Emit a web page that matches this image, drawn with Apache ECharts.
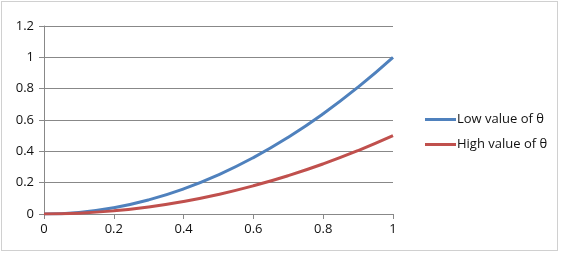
<!DOCTYPE html>
<html>
<head>
<meta charset="utf-8">
<script src="https://cdn.jsdelivr.net/npm/echarts@6/dist/echarts.min.js"></script>
<style>
  html, body { margin: 0; padding: 0; background: #fff; }
  #chart { width: 564px; height: 253px; }
  #frame { position: absolute; left: 1px; top: 1px; width: 555px; height: 248px; border: 1px solid #d0d0d0; pointer-events: none; }
</style>
</head>
<body>
<div id="chart"></div>
<div id="frame"></div>
<script>
// values
var xValues = [0, 0.1, 0.2, 0.3, 0.4, 0.5, 0.6, 0.7, 0.8, 0.9, 1];
var lowTheta = [0, 0.01, 0.04, 0.09, 0.16, 0.25, 0.36, 0.49, 0.64, 0.81, 1.0];
var highTheta = [0, 0.005, 0.02, 0.045, 0.08, 0.125, 0.18, 0.245, 0.32, 0.405, 0.5];
var seriesNames = ['Low value of θ', 'High value of θ'];

function pairs(ys) {
  var out = [];
  for (var i = 0; i < xValues.length; i++) {
    out.push([xValues[i], ys[i]]);
  }
  return out;
}

var font = 'Open Sans, Noto Sans, sans-serif';
var myChart = echarts.init(document.getElementById('chart'));

var option = {
  animation: false,
  color: ['#4F81BD', '#C0504D'],
  grid: { left: 44, right: 171, top: 26, bottom: 39 },
  legend: {
    orient: 'vertical',
    left: 420,
    top: 108,
    itemWidth: 31,
    itemHeight: 3,
    itemGap: 12,
    icon: 'rect',
    textStyle: { fontFamily: font, fontSize: 13, color: '#111', padding: [0, 0, 0, -4] },
    data: seriesNames
  },
  xAxis: {
    type: 'value',
    min: 0,
    max: 1,
    interval: 0.2,
    axisLine: { lineStyle: { color: '#888', width: 1 } },
    axisTick: { show: true, length: 5, lineStyle: { color: '#888' } },
    axisLabel: { fontFamily: font, fontSize: 13, color: '#111', margin: 9 },
    splitLine: { show: false }
  },
  yAxis: {
    type: 'value',
    min: 0,
    max: 1.2,
    interval: 0.2,
    axisLine: { show: true, lineStyle: { color: '#888', width: 1 } },
    axisTick: { show: true, length: 5, lineStyle: { color: '#888' } },
    axisLabel: { fontFamily: font, fontSize: 13, color: '#111', margin: 10 },
    splitLine: { lineStyle: { color: '#888', width: 1 } }
  },
  series: [
    {
      name: seriesNames[0],
      type: 'line',
      smooth: true,
      showSymbol: false,
      lineStyle: { width: 3 },
      data: pairs(lowTheta)
    },
    {
      name: seriesNames[1],
      type: 'line',
      smooth: true,
      showSymbol: false,
      lineStyle: { width: 3 },
      data: pairs(highTheta)
    }
  ]
};

myChart.setOption(option);
</script>
</body>
</html>
